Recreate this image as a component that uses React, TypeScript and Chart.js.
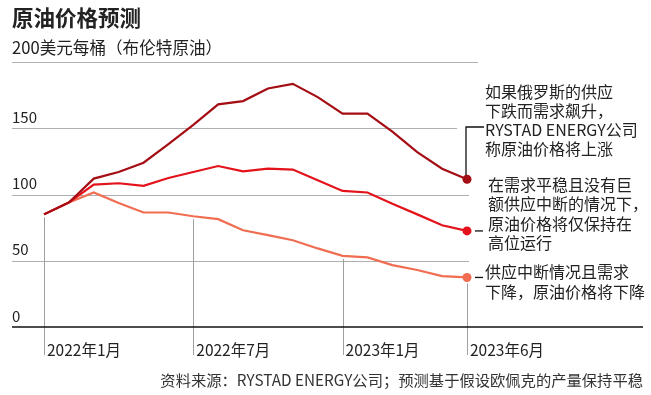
import React, { useEffect, useRef } from "react";
import { Chart, registerables } from "chart.js";

Chart.register(...registerables);

// Monthly points, Jan 2022 – Jun 2023
const months = [
  "2022-01", "2022-02", "2022-03", "2022-04", "2022-05", "2022-06",
  "2022-07", "2022-08", "2022-09", "2022-10", "2022-11", "2022-12",
  "2023-01", "2023-02", "2023-03", "2023-04", "2023-05", "2023-06",
];
const highCase = [85, 94, 112, 117, 124, 138, 152.5, 168, 170.5, 180, 183.5, 173.5, 161, 161, 147.5, 132, 119.5, 111.5];
const baseCase = [85, 94, 107.5, 108.5, 106.5, 112.5, 117, 121.5, 117.5, 119.5, 118.8, 110.7, 102.7, 101.5, 93, 85, 76.8, 72.5];
const lowCase = [85, 94, 101.5, 93.6, 86.4, 86.4, 83.6, 81.4, 73, 69.3, 65.5, 59.3, 53.7, 52.5, 46.7, 43, 38.4, 37.4];

const yTicks = [0, 50, 100, 150, 200];
const yTickLabels = ["0", "50", "100", "150", ""];
const xTickIndices = [0, 6, 12, 17];
const xTickLabels = ["2022年1月", "2022年7月", "2023年1月", "2023年6月"];

const title = "原油价格预测";
const subtitle = "200美元每桶（布伦特原油）";
const source = "资料来源：RYSTAD ENERGY公司；预测基于假设欧佩克的产量保持平稳";
const noteHigh = ["如果俄罗斯的供应", "下跌而需求飙升，", "RYSTAD ENERGY公司", "称原油价格将上涨"];
const noteBase = ["在需求平稳且没有巨", "额供应中断的情况下，", "原油价格将仅保持在", "高位运行"];
const noteLow = ["供应中断情况且需求", "下降，原油价格将下降"];

const colors = ["#a30d13", "#e3121b", "#f06d52"];
const FONT = '"Noto Sans CJK SC", "Noto Sans", sans-serif';

const decorPlugin = {
  id: "decor",
  beforeDatasetsDraw(chart: any) {
    const { ctx, scales } = chart;
    const x = scales.x;
    const y = scales.y;
    ctx.save();
    // horizontal gridlines
    const gridEnds: Record<number, number> = { 50: 469, 100: 469, 150: 457, 200: 478 };
    ctx.strokeStyle = "#b0b0b0";
    ctx.lineWidth = 1;
    yTicks.forEach((t) => {
      if (t === 0) return;
      const py = Math.round(y.getPixelForValue(t)) + 0.5;
      ctx.beginPath();
      ctx.moveTo(12, py);
      ctx.lineTo(gridEnds[t], py);
      ctx.stroke();
    });
    // vertical date lines from lowest series down below axis
    ctx.strokeStyle = "#a0a0a0";
    xTickIndices.forEach((idx) => {
      const px = Math.round(x.getPixelForValue(idx)) + 0.5;
      const minVal = Math.min(highCase[idx], baseCase[idx], lowCase[idx]);
      const top = y.getPixelForValue(minVal) + (idx === 17 ? 6 : 3);
      ctx.beginPath();
      ctx.moveTo(px, top);
      ctx.lineTo(px, 355);
      ctx.stroke();
    });
    // zero axis
    const p0 = y.getPixelForValue(0);
    ctx.strokeStyle = "#111";
    ctx.lineWidth = 1.5;
    ctx.beginPath();
    ctx.moveTo(12, p0);
    ctx.lineTo(643, p0);
    ctx.stroke();
    ctx.restore();
  },
  afterDraw(chart: any) {
    const { ctx, scales } = chart;
    const x = scales.x;
    const y = scales.y;
    ctx.save();
    ctx.textBaseline = "middle";
    ctx.textAlign = "left";
    ctx.fillStyle = "#222";
    ctx.font = `bold 21.5px ${FONT}`;
    ctx.fillText(title, 12, 18);
    ctx.font = `16.6px ${FONT}`;
    ctx.fillText(subtitle, 12, 48);

    ctx.font = `15px ${FONT}`;
    yTicks.forEach((t, i) => {
      if (!yTickLabels[i]) return;
      ctx.fillText(yTickLabels[i], 12, y.getPixelForValue(t) - 11);
    });
    ctx.font = `15.5px ${FONT}`;
    xTickIndices.forEach((idx, i) => {
      ctx.fillText(xTickLabels[i], x.getPixelForValue(idx) + 3, 350);
    });

    // annotations
    const last = months.length - 1;
    const lx = x.getPixelForValue(last);
    const hy = y.getPixelForValue(highCase[last]);
    const by = y.getPixelForValue(baseCase[last]);
    const ly = y.getPixelForValue(lowCase[last]);
    ctx.strokeStyle = "#111";
    ctx.lineWidth = 1.3;
    ctx.beginPath();
    ctx.moveTo(lx - 1, hy - 4);
    ctx.lineTo(lx - 1, 127);
    ctx.lineTo(484, 127);
    ctx.stroke();
    ctx.beginPath();
    ctx.moveTo(475, by);
    ctx.lineTo(483, by);
    ctx.stroke();
    ctx.beginPath();
    ctx.moveTo(475, ly);
    ctx.lineTo(483, ly);
    ctx.stroke();

    ctx.font = `16px ${FONT}`;
    ctx.fillStyle = "#222";
    noteHigh.forEach((s, i) => ctx.fillText(s, 485, 92 + i * 19));
    noteBase.forEach((s, i) => ctx.fillText(s, 488, 185 + i * 19.3));
    noteLow.forEach((s, i) => ctx.fillText(s, 485, 272 + i * 20));

    ctx.font = `15.3px ${FONT}`;
    ctx.fillStyle = "#333";
    ctx.textAlign = "right";
    ctx.fillText(source, 643, 380);
    ctx.restore();
  },
};

export default function App() {
  const ref = useRef<HTMLCanvasElement>(null);
  useEffect(() => {
    if (!ref.current) return;
    const series = [highCase, baseCase, lowCase];
    const lastIdx = months.length - 1;
    const chart = new Chart(ref.current, {
      type: "line",
      data: {
        datasets: series.map((vals, si) => ({
          label: String(si),
          data: vals.map((v, i) => ({ x: i, y: v })),
          borderColor: colors[si],
          backgroundColor: colors[si],
          borderWidth: 2.2,
          tension: 0,
          pointRadius: vals.map((_, i) => (i === lastIdx ? 4.5 : 0)),
          pointHoverRadius: 0,
          pointBorderWidth: 0,
        })),
      },
      options: {
        animation: false,
        responsive: false,
        events: [],
        layout: { padding: { left: 12, right: 8, top: 62, bottom: 68 } },
        plugins: { legend: { display: false }, tooltip: { enabled: false } },
        scales: {
          x: {
            type: "linear",
            display: false,
            min: -32 / (423 / 17),
            max: 17 + 176 / (423 / 17),
          },
          y: { type: "linear", display: false, min: 0, max: 200 },
        },
      },
      plugins: [decorPlugin],
    });
    return () => chart.destroy();
  }, []);
  return (
    <div style={{ position: "fixed", left: 0, top: 0, width: 651, height: 395, background: "#fff" }}>
      <canvas ref={ref} width={651} height={395} style={{ display: "block" }} />
    </div>
  );
}
